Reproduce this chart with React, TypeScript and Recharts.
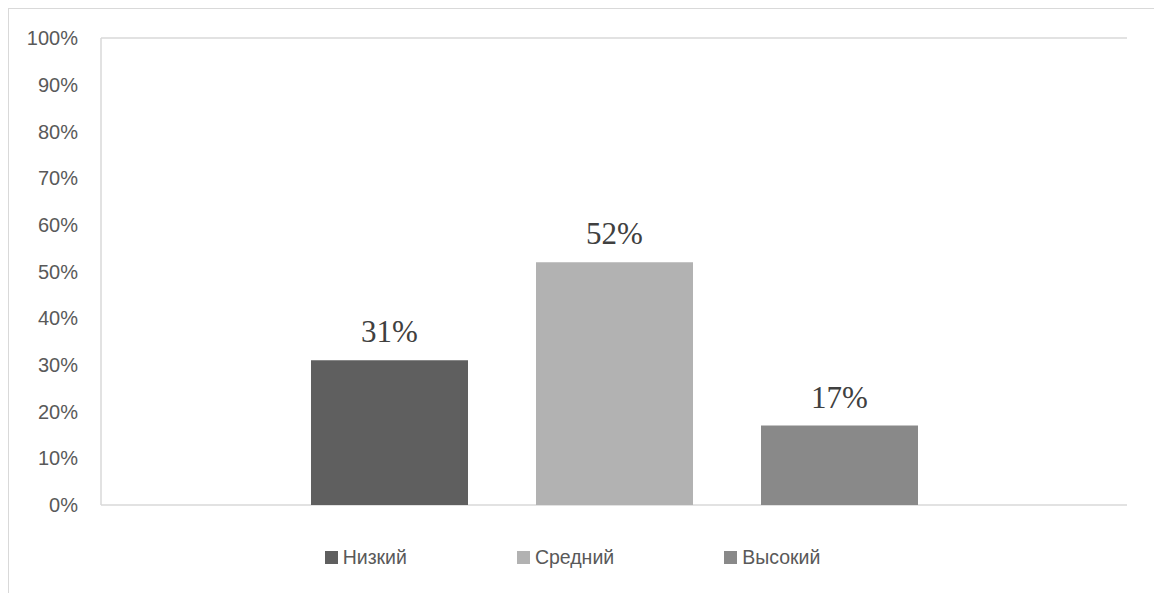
import React from "react";
import {
  BarChart,
  Bar,
  XAxis,
  YAxis,
  CartesianGrid,
  Legend,
  LabelList,
} from "recharts";

const categories = [""];
const seriesNames = ["Низкий", "Средний", "Высокий"];
const seriesKeys = ["low", "mid", "high"];
const seriesValues = [0.31, 0.52, 0.17];
const seriesColors = ["#5f5f5f", "#b2b2b2", "#898989"];
const yTicks = [0, 0.1, 0.2, 0.3, 0.4, 0.5, 0.6, 0.7, 0.8, 0.9, 1];

const data = categories.map((c) => {
  const row: Record<string, string | number> = { name: c };
  seriesKeys.forEach((k, i) => {
    row[k] = seriesValues[i];
  });
  return row;
});

const pct = (v: number) => `${Math.round(v * 100)}%`;

const SANS = "'Liberation Sans', Arial, sans-serif";
const SERIF = "'Liberation Serif', 'Times New Roman', serif";

const LegendContent = () => (
  <div
    style={{
      display: "flex",
      justifyContent: "center",
      gap: 110,
      paddingRight: 20,
      fontFamily: SANS,
      fontSize: 19.5,
      color: "#595959",
      lineHeight: "24px",
    }}
  >
    {seriesNames.map((n, i) => (
      <div key={n} style={{ display: "flex", alignItems: "center" }}>
        <span
          style={{
            display: "inline-block",
            width: 13,
            height: 13,
            background: seriesColors[i],
            marginRight: 5,
          }}
        />
        <span>{n}</span>
      </div>
    ))}
  </div>
);

export default function App() {
  return (
    <div
      style={{
        width: 1147,
        height: 600,
        border: "1px solid #d9d9d9",
        background: "#fff",
        position: "relative",
      }}
    >
      <BarChart
        width={1147}
        height={600}
        data={data}
        margin={{ top: 29, right: 29, left: 0, bottom: 104 }}
        barSize={157}
        barGap={68}
      >
        <CartesianGrid vertical={false} stroke="#d9d9d9" strokeWidth={1.5} />
        <XAxis
          dataKey="name"
          height={0}
          tick={false}
          tickLine={false}
          axisLine={{ stroke: "#d9d9d9", strokeWidth: 1.5 }}
        />
        <YAxis
          yAxisId="left"
          width={92}
          domain={[0, 1]}
          ticks={yTicks}
          tickFormatter={pct}
          tickLine={false}
          tickSize={8}
          tickMargin={15}
          axisLine={{ stroke: "#d9d9d9", strokeWidth: 1.5 }}
          tick={{ fontFamily: SANS, fontSize: 20, fill: "#595959" }}
          interval={0}
        />
        <YAxis
          yAxisId="right"
          orientation="right"
          width={0}
          domain={[0, 1]}
          tick={false}
          tickLine={false}
          axisLine={{ stroke: "#d9d9d9", strokeWidth: 1.5 }}
        />
        <Legend
          verticalAlign="middle"
          layout="horizontal"
          wrapperStyle={{ top: 536, left: 0, width: 1147 }}
          content={<LegendContent />}
        />
        {seriesKeys.map((k, i) => (
          <Bar
            key={k}
            yAxisId="left"
            dataKey={k}
            name={seriesNames[i]}
            fill={seriesColors[i]}
            isAnimationActive={false}
          >
            <LabelList
              dataKey={k}
              position="top"
              offset={18}
              formatter={(v: number) => pct(v)}
              style={{ fontFamily: SERIF, fontSize: 31, fill: "#404040" }}
            />
          </Bar>
        ))}
      </BarChart>
    </div>
  );
}
